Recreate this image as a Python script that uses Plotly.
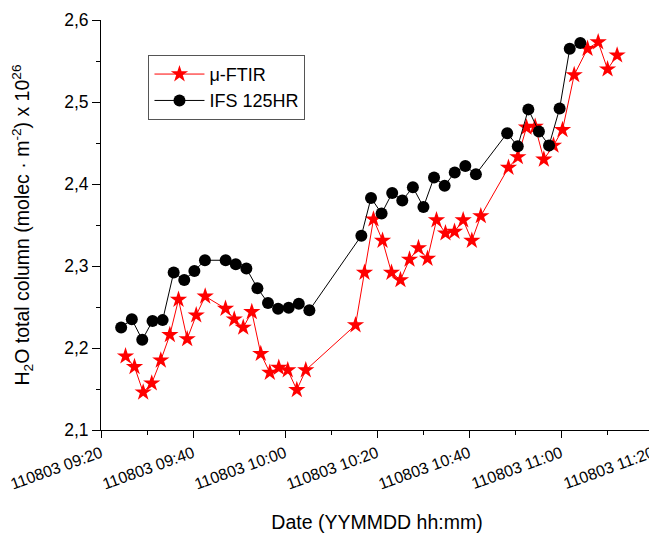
import plotly.graph_objects as go

DATE = "2011-08-03 "

# μ-FTIR (red stars)
ftir_times = ["09:25:20", "09:27:17", "09:29:10", "09:31:02", "09:33:00", "09:34:58", "09:36:51",
              "09:38:44", "09:40:42", "09:42:39", "09:47:04", "09:48:58", "09:50:55", "09:52:47",
              "09:54:44", "09:56:42", "09:58:39", "10:00:36", "10:02:34", "10:04:31", "10:15:20",
              "10:17:17", "10:19:14", "10:21:12", "10:23:09", "10:25:06", "10:27:04", "10:29:01",
              "10:30:59", "10:32:56", "10:34:53", "10:36:51", "10:38:44", "10:40:37", "10:42:34",
              "10:48:35", "10:50:37", "10:52:30", "10:54:23", "10:56:16", "10:58:22", "11:00:20",
              "11:02:52", "11:05:46", "11:08:05", "11:10:07", "11:12:12"]
ftir_values = [2.190, 2.177, 2.146, 2.157, 2.185, 2.216, 2.259, 2.211, 2.240, 2.263,
               2.248, 2.235, 2.225, 2.244, 2.193, 2.170, 2.176, 2.173, 2.149, 2.173,
               2.228, 2.292, 2.357, 2.331, 2.292, 2.283, 2.308, 2.322, 2.309, 2.356,
               2.340, 2.342, 2.356, 2.331, 2.361, 2.420, 2.433, 2.469, 2.470, 2.430,
               2.447, 2.466, 2.533, 2.565, 2.573, 2.540, 2.557]

# IFS 125HR (black circles)
ifs_times = ["09:24:23", "09:26:42", "09:28:58", "09:31:12", "09:33:24", "09:35:48", "09:38:06",
             "09:40:18", "09:42:36", "09:47:06", "09:49:18", "09:51:36", "09:54:00", "09:56:18",
             "09:58:30", "10:00:48", "10:03:00", "10:05:18", "10:16:36", "10:18:42", "10:21:00",
             "10:23:18", "10:25:30", "10:27:48", "10:30:06", "10:32:24", "10:34:42", "10:36:54",
             "10:39:12", "10:41:30", "10:48:18", "10:50:36", "10:52:54", "10:55:12", "10:57:24",
             "10:59:42", "11:01:54", "11:04:12"]
ifs_values = [2.225, 2.235, 2.210, 2.233, 2.234, 2.292, 2.283, 2.294, 2.307, 2.307,
              2.302, 2.297, 2.273, 2.255, 2.248, 2.249, 2.254, 2.246, 2.337, 2.383,
              2.364, 2.389, 2.380, 2.396, 2.372, 2.408, 2.398, 2.414, 2.422, 2.412,
              2.462, 2.446, 2.491, 2.464, 2.447, 2.492, 2.565, 2.572]

x_tick_times = ["09:20", "09:40", "10:00", "10:20", "10:40", "11:00", "11:20"]
x_tick_labels = ["110803 09:20", "110803 09:40", "110803 10:00", "110803 10:20",
                 "110803 10:40", "110803 11:00", "110803 11:20"]
y_ticks = [2.1, 2.2, 2.3, 2.4, 2.5, 2.6]

FONT = "Arial, Liberation Sans, sans-serif"

fig = go.Figure()
fig.add_trace(go.Scatter(
    x=[DATE + t for t in ftir_times], y=ftir_values, name="μ-FTIR",
    mode="lines+markers",
    line=dict(color="#ff0000", width=1),
    marker=dict(symbol="star", size=13, color="#ff0000", line=dict(width=0)),
))
fig.add_trace(go.Scatter(
    x=[DATE + t for t in ifs_times], y=ifs_values, name="IFS 125HR",
    mode="lines+markers",
    line=dict(color="#000000", width=1),
    marker=dict(symbol="circle", size=12, color="#000000", line=dict(width=0)),
))

# The page body adds an 8px offset, so the figure is 8px smaller than the window.
fig.update_layout(
    width=649, height=528,
    margin=dict(l=93, r=4, t=12, b=106),
    paper_bgcolor="white", plot_bgcolor="white",
    separators=", ",
    font=dict(family=FONT, size=16, color="black"),
    showlegend=True,
    legend=dict(x=0.086, y=0.915, xanchor="left", yanchor="top",
                bordercolor="#555555", borderwidth=1, bgcolor="white",
                font=dict(size=18, family=FONT), tracegroupgap=0, itemwidth=50),
)
fig.update_xaxes(
    type="date", automargin=False,
    range=[DATE + "09:20", DATE + "11:20"],
    tickvals=[DATE + t for t in x_tick_times], ticktext=x_tick_labels,
    tickangle=-20, ticks="outside", ticklen=7, tickwidth=1, tickcolor="black",
    minor=dict(dtick=600000, ticks="outside", ticklen=4, tickcolor="black"),
    showline=True, linecolor="black", linewidth=1, showgrid=False, zeroline=False,
    tickfont=dict(size=16, family=FONT),
    title=dict(text="Date (YYMMDD hh:mm)", font=dict(size=19.5, family=FONT), standoff=23),
)
fig.update_yaxes(
    automargin=False,
    range=[2.1, 2.6], tickvals=y_ticks, tickformat=".1f",
    ticks="outside", ticklen=8, tickwidth=1, tickcolor="black",
    minor=dict(dtick=0.05, tick0=2.1, ticks="outside", ticklen=4, tickcolor="black"),
    showline=True, linecolor="black", linewidth=1, showgrid=False, zeroline=False,
    tickfont=dict(size=17.5, family=FONT),
    title=dict(text="H<sub>2</sub>O total column (molec · m<sup>-2</sup>) x 10<sup>26</sup>",
               font=dict(size=19.5, family=FONT), standoff=29),
)

fig.write_html("out.html")
